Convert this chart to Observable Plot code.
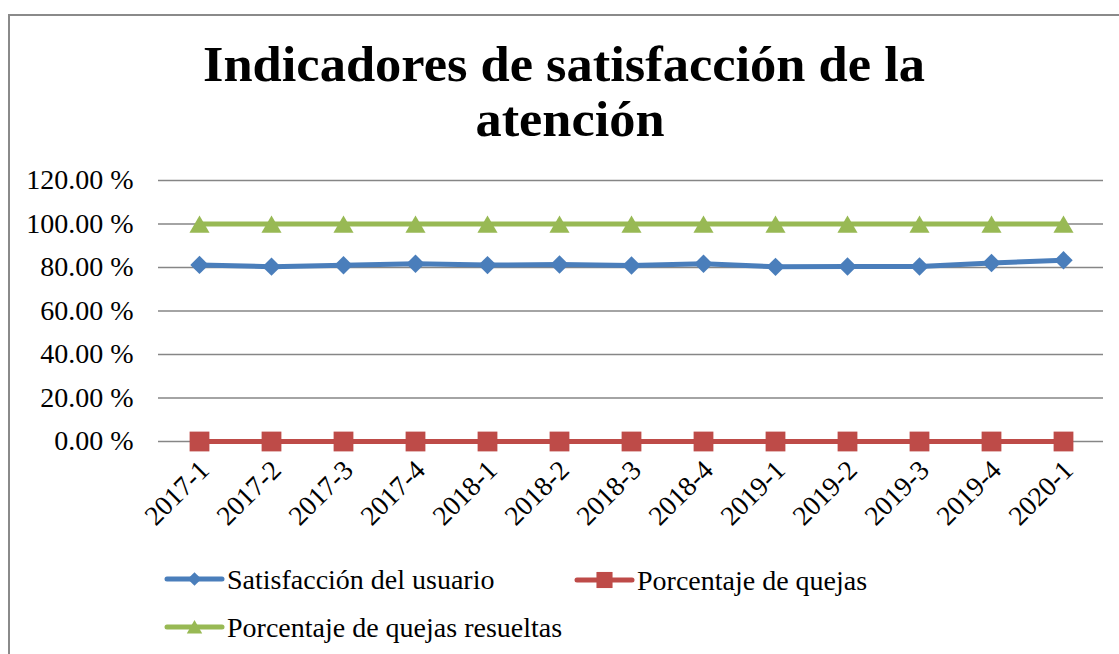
<!DOCTYPE html>
<html>
<head>
<meta charset="utf-8">
<script src="https://cdn.jsdelivr.net/npm/d3@7"></script>
<script src="https://cdn.jsdelivr.net/npm/@observablehq/plot@0.6"></script>
<style>
  html, body { margin: 0; padding: 0; background: #fff; overflow: hidden; }
  #wrap { position: relative; width: 1119px; height: 654px; overflow: hidden; font-family: "Liberation Serif", serif; }
  #frame { position: absolute; left: 8px; top: 14px; width: 1200px; height: 700px; border-left: 2px solid #8a8a8a; border-top: 2px solid #8a8a8a; }
  #chart, #title, #legend { position: absolute; left: 0; top: 0; }
</style>
</head>
<body>
<div id="wrap">
  <div id="frame"></div>
  <div id="chart"></div>
  <svg id="title" width="1119" height="160"></svg>
  <svg id="legend" width="1119" height="654"></svg>
</div>
<script>
const titleLines = ["Indicadores de satisfacción de la", "atención"];
const categories = ["2017-1","2017-2","2017-3","2017-4","2018-1","2018-2","2018-3","2018-4","2019-1","2019-2","2019-3","2019-4","2020-1"];
const seriesNames = ["Satisfacción del usuario", "Porcentaje de quejas", "Porcentaje de quejas resueltas"];
const satisfaccion = [81.2, 80.4, 81.0, 81.7, 81.1, 81.4, 80.9, 81.7, 80.3, 80.5, 80.5, 82.1, 83.3];
const quejas = [0, 0, 0, 0, 0, 0, 0, 0, 0, 0, 0, 0, 0];
const resueltas = [100, 100, 100, 100, 100, 100, 100, 100, 100, 100, 100, 100, 100];
const yTicks = [0, 20, 40, 60, 80, 100, 120];
const colors = ["#4A7EBB", "#BE4B48", "#98B954"];

const valuesBySeries = [satisfaccion, quejas, resueltas];
const data = [];
seriesNames.forEach((s, i) => valuesBySeries[i].forEach((v, j) => data.push({serie: s, cat: categories[j], value: v})));

const chart = Plot.plot({
  width: 1119,
  height: 654,
  marginTop: 180,
  marginBottom: 213,
  marginLeft: 158,
  marginRight: 16,
  style: {fontFamily: "'Liberation Serif', serif", fontSize: "27px", color: "#000", background: "transparent", overflow: "visible"},
  x: {type: "point", domain: categories, padding: 0.5, label: null},
  y: {domain: [0, 120], label: null},
  color: {domain: seriesNames, range: colors},
  marks: [
    Plot.gridY(yTicks, {stroke: "#868686", strokeOpacity: 1, strokeWidth: 1.4}),
    Plot.axisY(yTicks, {tickSize: 0, tickPadding: 25, fontSize: 28, label: null, tickFormat: d => d3.format(".2f")(d) + " %", fill: "#000"}),
    Plot.axisX({tickRotate: -45, tickSize: 0, tickPadding: 24, dx: 5, fontSize: 27.5, label: null, fill: "#000"}),
    Plot.line(data, {x: "cat", y: "value", z: "serie", stroke: "serie", strokeWidth: 5}),
    Plot.dot(data.filter(d => d.serie === seriesNames[0]), {x: "cat", y: "value", fill: colors[0], symbol: "diamond2", r: 8.3}),
    Plot.dot(data.filter(d => d.serie === seriesNames[1]), {x: "cat", y: "value", fill: colors[1], symbol: "square2", r: 12.6}),
    Plot.dot(data.filter(d => d.serie === seriesNames[2]), {x: "cat", y: "value", fill: colors[2], symbol: "triangle2", r: 9.6, dy: 3})
  ]
});
document.getElementById("chart").appendChild(chart);

// Title
const tsvg = d3.select("#title");
tsvg.append("text").attr("x", 564).attr("y", 81).attr("text-anchor", "middle")
  .attr("font-family", "'Liberation Serif', serif").attr("font-weight", "bold").attr("font-size", 51)
  .attr("textLength", 722).attr("lengthAdjust", "spacingAndGlyphs").text(titleLines[0]);
tsvg.append("text").attr("x", 570).attr("y", 136).attr("text-anchor", "middle")
  .attr("font-family", "'Liberation Serif', serif").attr("font-weight", "bold").attr("font-size", 51)
  .attr("textLength", 189).attr("lengthAdjust", "spacingAndGlyphs").text(titleLines[1]);

// Legend
const lsvg = d3.select("#legend");
const legendPos = [[167, 579], [577, 580], [167, 627]];
const d3symbols = [d3.symbolDiamond2, d3.symbolSquare2, d3.symbolTriangle2];
const legendSizes = [120, 330, 170];
seriesNames.forEach((s, i) => {
  const [lx, ly] = legendPos[i];
  const g = lsvg.append("g").attr("transform", `translate(${lx},${ly})`);
  g.append("line").attr("x1", 0).attr("x2", 55).attr("y1", 0).attr("y2", 0)
    .attr("stroke", colors[i]).attr("stroke-width", 5).attr("stroke-linecap", "round");
  g.append("path").attr("d", d3.symbol(d3symbols[i], legendSizes[i])())
    .attr("transform", `translate(27.5,${i === 2 ? 2 : 0})`).attr("fill", colors[i]);
  g.append("text").attr("x", 60).attr("y", 0).attr("dy", "0.34em")
    .attr("font-family", "'Liberation Serif', serif").attr("font-size", 28).attr("fill", "#000").text(s);
});
</script>
</body>
</html>
